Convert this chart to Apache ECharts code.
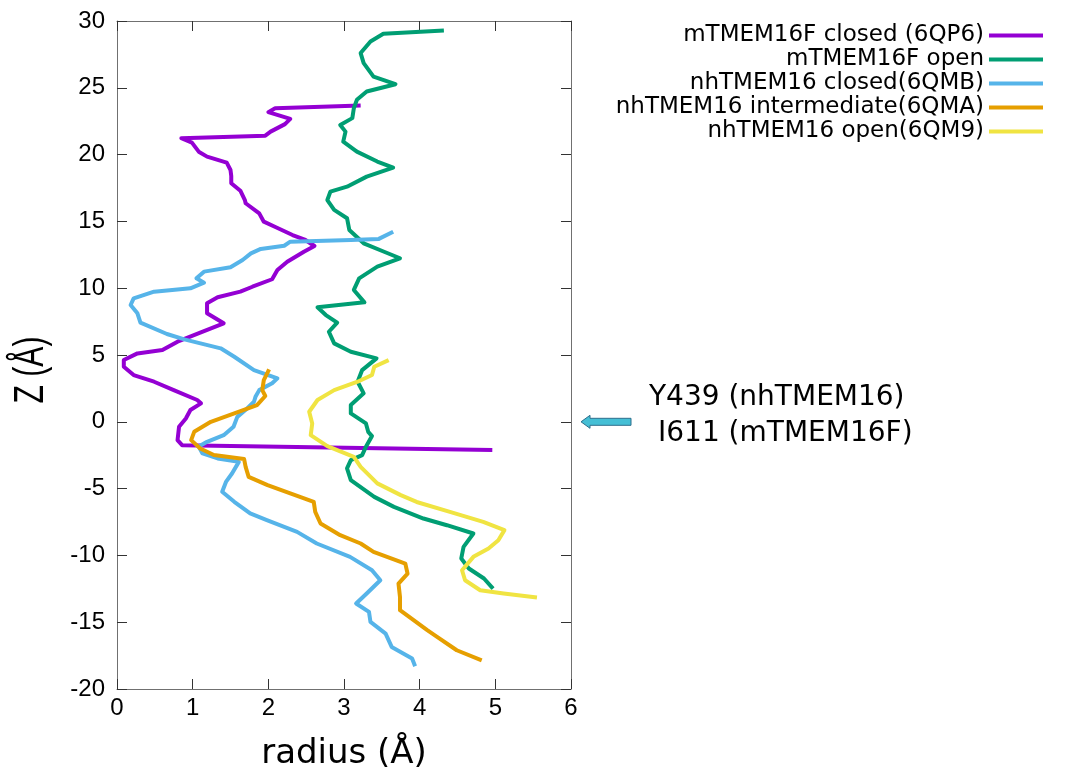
<!DOCTYPE html>
<html>

<head>
  <meta charset="utf-8">
  <title>Pore radius profiles</title>
  <style>
    html,
    body {
      margin: 0;
      padding: 0;
      background: #fff;
    }

    #chart {
      width: 1071px;
      height: 771px;
    }
  </style>
</head>

<body>
  <div id="chart"></div>
</body>
<script src="https://cdn.jsdelivr.net/npm/echarts@6/dist/echarts.min.js"></script>
<script>
  // [radius (Å), Z (Å)], top to bottom
  const mtmem16fClosed = [
    [3.22, 23.67], [2.09, 23.47], [2.00, 23.18], [2.29, 22.67], [2.22, 22.28], [2.03, 21.72],
    [1.96, 21.42], [0.85, 21.23], [0.99, 20.90], [1.08, 20.22], [1.19, 19.85], [1.45, 19.40],
    [1.50, 18.85], [1.51, 18.40], [1.51, 17.86], [1.63, 17.30], [1.69, 16.60], [1.70, 16.36],
    [1.88, 15.60], [1.94, 14.98], [2.10, 14.56], [2.32, 13.98], [2.49, 13.61], [2.61, 13.16],
    [2.47, 12.73], [2.25, 11.98], [2.12, 11.36], [2.05, 10.67], [1.79, 10.11], [1.63, 9.74],
    [1.33, 9.32], [1.19, 8.87], [1.19, 8.12], [1.41, 7.37], [1.10, 6.67], [0.80, 6.00],
    [0.60, 5.37], [0.27, 5.12], [0.09, 4.62], [0.09, 4.12], [0.22, 3.50], [0.49, 3.00],
    [0.75, 2.37], [1.06, 1.63], [1.11, 1.38], [0.97, 0.88], [0.91, 0.25], [0.82, -0.37],
    [0.80, -1.37], [0.86, -1.75], [4.96, -2.12]
  ]
  const mtmem16fOpen = [
    [4.32, 29.29], [3.52, 29.04], [3.35, 28.47], [3.22, 27.60], [3.26, 26.85], [3.39, 25.84],
    [3.68, 25.27], [3.30, 24.72], [3.17, 24.10], [3.13, 23.47], [3.11, 22.73], [2.95, 22.22],
    [3.02, 21.72], [2.99, 20.97], [3.17, 20.22], [3.44, 19.48], [3.65, 19.03], [3.30, 18.35],
    [3.04, 17.60], [2.82, 17.23], [2.78, 16.60], [2.87, 15.86], [3.04, 15.24], [3.07, 14.36],
    [3.26, 13.36], [3.53, 12.73], [3.74, 12.24], [3.44, 11.61], [3.20, 10.74], [3.13, 9.87],
    [3.27, 8.94], [2.65, 8.57], [2.76, 7.99], [2.91, 7.42], [2.80, 6.74], [2.87, 5.87],
    [3.09, 5.24], [3.43, 4.75], [3.24, 3.87], [3.18, 3.00], [3.26, 2.13], [3.09, 1.25],
    [3.09, 0.63], [3.29, -0.12], [3.32, -0.75], [3.37, -1.07], [3.29, -1.87], [3.24, -2.49],
    [3.09, -2.87], [3.04, -3.49], [3.09, -4.37], [3.40, -5.62], [3.66, -6.37], [4.05, -7.24],
    [4.36, -7.74], [4.71, -8.36], [4.58, -9.36], [4.55, -10.23], [4.65, -10.98], [4.85, -11.73],
    [4.97, -12.48]
  ]
  const nhtmem16Closed = [
    [3.65, 14.23], [3.46, 13.69], [3.09, 13.61], [2.29, 13.48], [2.21, 13.18], [1.90, 12.94],
    [1.77, 12.61], [1.66, 12.11], [1.50, 11.57], [1.15, 11.24], [1.05, 10.74], [1.15, 10.41],
    [0.97, 9.99], [0.49, 9.74], [0.22, 9.24], [0.18, 8.74], [0.27, 8.12], [0.31, 7.42],
    [0.66, 6.57], [0.89, 6.17], [1.37, 5.50], [1.55, 4.87], [1.81, 3.87], [2.12, 3.25],
    [2.05, 2.88], [1.88, 2.37], [1.83, 1.87], [1.81, 1.50], [1.72, 1.00], [1.59, 0.37],
    [1.54, -0.37], [1.41, -1.00], [1.19, -1.50], [1.08, -1.85], [1.13, -2.37], [1.33, -2.74],
    [1.61, -3.00], [1.52, -3.87], [1.44, -4.50], [1.39, -5.24], [1.55, -5.99], [1.76, -6.86],
    [1.98, -7.36], [2.38, -8.24], [2.64, -9.11], [3.08, -10.11], [3.37, -11.11], [3.48, -11.86],
    [3.30, -12.85], [3.16, -13.60], [3.33, -14.23], [3.35, -14.98], [3.55, -15.85], [3.63, -16.85],
    [3.90, -17.72], [3.94, -18.30]
  ]
  const nhtmem16Intermediate = [
    [2.01, 3.93], [1.94, 3.12], [1.92, 2.37], [1.96, 1.93], [1.85, 1.25], [1.55, 0.63],
    [1.24, 0.00], [1.02, -0.75], [0.98, -1.37], [1.10, -2.00], [1.28, -2.49], [1.68, -2.79],
    [1.70, -3.37], [1.74, -4.12], [1.99, -4.74], [2.29, -5.36], [2.60, -5.99], [2.62, -6.74],
    [2.69, -7.61], [2.95, -8.49], [3.22, -9.11], [3.39, -9.74], [3.81, -10.61], [3.84, -11.36],
    [3.72, -12.11], [3.74, -13.11], [3.74, -14.10], [3.92, -14.85], [4.10, -15.60], [4.23, -16.10],
    [4.49, -17.10], [4.82, -17.85]
  ]
  const nhtmem16Open = [
    [3.59, 4.62], [3.40, 4.12], [3.37, 3.50], [3.18, 3.00], [2.87, 2.37], [2.65, 1.63],
    [2.54, 0.75], [2.58, -0.12], [2.56, -1.00], [2.78, -1.82], [3.13, -2.62], [3.22, -3.37],
    [3.44, -4.61], [3.75, -5.49], [3.96, -6.00], [4.40, -6.74], [4.84, -7.49], [5.12, -8.11],
    [5.04, -8.86], [4.91, -9.48], [4.71, -10.11], [4.56, -11.11], [4.60, -11.86], [4.80, -12.61],
    [5.11, -12.85], [5.55, -13.15]
  ]

  const seriesNames = [
    'mTMEM16F closed (6QP6)',
    'mTMEM16F open',
    'nhTMEM16 closed(6QMB)',
    'nhTMEM16 intermediate(6QMA)',
    'nhTMEM16 open(6QM9)'
  ]
  const seriesData = [mtmem16fClosed, mtmem16fOpen, nhtmem16Closed, nhtmem16Intermediate, nhtmem16Open]
  const seriesColors = ['#9400D3', '#009E73', '#56B4E9', '#E69F00', '#F0E442']

  const radiusRange = [0, 6, 1] // min, max, step
  const zRange = [-20, 30, 5]
  const noteLines = ['Y439 (nhTMEM16)', 'I611 (mTMEM16F)']
  const noteZ = 0

  let chart = echarts.init(document.getElementById('chart'))

  // axis helper, the mirrored top / right axes only carry ticks
  function make_axis(range, position, withLabel, labelMargin) {
    return {
      type: 'value',
      position,
      min: range[0],
      max: range[1],
      interval: range[2],
      axisLine: { show: true, onZero: false, lineStyle: { color: '#707070', width: 1 } },
      axisTick: { show: true, inside: true, length: 10, lineStyle: { color: '#333', width: 1 } },
      axisLabel: {
        show: withLabel,
        margin: labelMargin,
        color: '#000',
        fontFamily: 'Liberation Sans',
        fontSize: 24,
      },
      splitLine: { show: false },
    }
  }

  let xBottom = make_axis(radiusRange, 'bottom', true, 7)
  xBottom.name = 'radius (Å)'
  xBottom.nameLocation = 'middle'
  xBottom.nameGap = 48
  xBottom.nameTextStyle = { color: '#000', fontFamily: 'DejaVu Sans', fontSize: 34 }

  let option = {
    animation: false,
    backgroundColor: '#fff',
    grid: { left: 117, right: 500, top: 21, bottom: 82, outerBoundsMode: 'none' },
    legend: {
      orient: 'vertical',
      align: 'right',
      right: 28,
      top: 24,
      padding: 0,
      icon: 'rect',
      itemWidth: 54,
      itemHeight: 4,
      itemGap: 1,
      selectedMode: false,
      textStyle: { color: '#000', fontFamily: 'DejaVu Sans', fontSize: 23, lineHeight: 22 },
      data: seriesNames,
    },
    xAxis: [xBottom, make_axis(radiusRange, 'top', false, 0)],
    yAxis: [make_axis(zRange, 'left', true, 12), make_axis(zRange, 'right', false, 0)],
    series: seriesData.map((d, i) => ({
      name: seriesNames[i],
      type: 'line',
      xAxisIndex: 0,
      yAxisIndex: 0,
      symbol: 'none',
      showSymbol: false,
      lineStyle: { color: seriesColors[i], width: 4, join: 'round' },
      itemStyle: { color: seriesColors[i] },
      data: d,
    })),
  }
  chart.setOption(option)

  // arrow and note sit at Z = 0, just right of the plot box
  let y0 = chart.convertToPixel({ yAxisIndex: 0 }, noteZ)
  let xr = chart.convertToPixel({ xAxisIndex: 0 }, radiusRange[1])
  let tip = xr + 10
  chart.setOption({
    graphic: [
      {
        type: 'polygon',
        shape: {
          points: [
            [tip, y0], [tip + 9, y0 - 6.5], [tip + 9, y0 - 3.5], [tip + 50, y0 - 3.5],
            [tip + 50, y0 + 3.5], [tip + 9, y0 + 3.5], [tip + 9, y0 + 6.5]
          ]
        },
        style: { fill: '#45BFD5', stroke: '#2D6F8C', lineWidth: 1 },
      },
      {
        type: 'text',
        x: tip + 68,
        y: y0 - 24.5,
        style: { text: noteLines[0], fill: '#000', font: '28px "DejaVu Sans"', align: 'left', verticalAlign: 'middle' },
      },
      {
        type: 'text',
        x: tip + 77,
        y: y0 + 11.5,
        style: { text: noteLines[1], fill: '#000', font: '28px "DejaVu Sans"', align: 'left', verticalAlign: 'middle' },
      },
      {
        type: 'text',
        x: 31,
        y: 370,
        rotation: Math.PI / 2,
        scaleX: 0.72,
        style: { text: 'Z (Å)', fill: '#000', font: '42px "Liberation Sans"', align: 'center', verticalAlign: 'middle' },
      },
    ],
  })
</script>

</html>
